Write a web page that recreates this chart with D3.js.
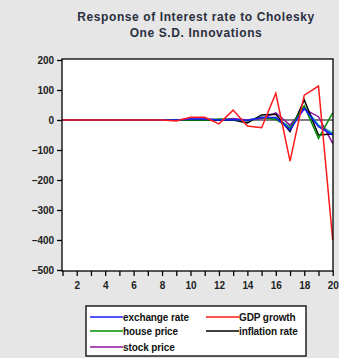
<!DOCTYPE html>
<html><head><meta charset="utf-8">
<script src="https://cdn.jsdelivr.net/npm/d3@7"></script>
<style>body{margin:0;background:#e6e6e6;}svg{display:block;}</style>
</head><body><svg id="c" width="339" height="358"></svg>
<script>
const periods = d3.range(1, 21);
const titleLines = ["Response of Interest rate to Cholesky", "One S.D. Innovations"];
const yTicks = [200, 100, 0, -100, -200, -300, -400, -500];
const xTickLabels = [2, 4, 6, 8, 10, 12, 14, 16, 18, 20];
const seriesNames = ["exchange rate", "GDP growth", "house price", "inflation rate", "stock price", "interest rate"];
const seriesColors = ["#1a1aff", "#ff1a1a", "#008c00", "#000000", "#9010a0", "#00a0a0"];
const inLegend = [true, true, true, true, true, false];
const exchangeRate = [0,0,0,0,0,0,0,0,0,3,3,0,2,-2,8,8,-33,39,-22,-50];
const gdpGrowth    = [0,0,0,0,0,0,0,0,-3,9,9,-13,33,-20,-26,89,-137,83,113,-400];
const housePrice   = [0,0,0,0,0,0,0,0,0,0,0,3,2,-3,9,2,-28,47,-61,24];
const inflation    = [0,0,0,0,0,0,0,0,0,0,0,0,0,-10,17,19,-39,67,-50,-47];
const stockPrice   = [0,0,0,0,0,0,0,0,0,3,3,0,5,0,5,24,-17,36,11,-78];
const interestRate = [0,0,0,0,0,0,0,0,0,0,0,0,0,0,8,5,-22,44,-17,-44];
const seriesValues = [exchangeRate, gdpGrowth, housePrice, inflation, stockPrice, interestRate];

const svg = d3.select("#c");
const L = 62, R = 333, T = 59, B = 271;
const x = d3.scaleLinear().domain([1, 20]).range([62.5, 332.7]);
const y = d3.scaleLinear().domain([200, -500]).range([60, 270]);

svg.append("g").selectAll("text").data(titleLines).join("text")
  .attr("x", 196).attr("y", (d, i) => 21 + i * 16)
  .attr("text-anchor", "middle")
  .style("font-family", "Liberation Sans, Arial, sans-serif")
  .style("font-size", "12px").style("font-weight", "bold").style("letter-spacing", "0.6px")
  .attr("fill", "#2a2f40").text(d => d);

svg.append("rect").attr("x", L).attr("y", T).attr("width", R - L).attr("height", B - T)
  .attr("fill", "#fff");

svg.append("line").attr("x1", L).attr("x2", R).attr("y1", y(0)).attr("y2", y(0))
  .attr("stroke", "#000").attr("stroke-width", 1.2);

const line = d3.line().x((d, i) => x(periods[i])).y(d => y(d));
const order = [5, 4, 3, 2, 0, 1];
svg.append("g").selectAll("path").data(order).join("path")
  .attr("d", k => line(seriesValues[k]))
  .attr("fill", "none").attr("stroke", k => seriesColors[k]).attr("stroke-width", 1.5);

svg.append("rect").attr("x", L).attr("y", T).attr("width", R - L).attr("height", B - T)
  .attr("fill", "none").attr("stroke", "#000").attr("stroke-width", 1.3);

const fontStyle = s => s.style("font-family", "Liberation Sans, Arial, sans-serif")
  .style("font-size", "10px").style("font-weight", "bold").style("letter-spacing", "-0.1px");

const yAx = svg.append("g").attr("transform", `translate(${L},0)`)
  .call(d3.axisLeft(y).tickValues(yTicks).tickSize(5).tickSizeOuter(0).tickPadding(3));
yAx.select(".domain").remove();
yAx.selectAll("line").attr("stroke", "#000").attr("stroke-width", 1.3);
yAx.selectAll("text").call(fontStyle).attr("fill", "#222");

const xAx = svg.append("g").attr("transform", `translate(0,${B})`)
  .call(d3.axisBottom(x).tickValues(periods).tickSize(5).tickSizeOuter(0).tickPadding(6)
    .tickFormat(d => xTickLabels.includes(d) ? d : ""));
xAx.select(".domain").remove();
xAx.selectAll("line").attr("stroke", "#000").attr("stroke-width", 1.3);
xAx.selectAll("text").call(fontStyle).attr("fill", "#222");

const lg = svg.append("g");
lg.append("rect").attr("x", 86).attr("y", 306).attr("width", 220).attr("height", 50)
  .attr("fill", "#fff").attr("stroke", "#000").attr("stroke-width", 1.3);
const items = seriesNames.map((n, i) => ({n, c: seriesColors[i], show: inLegend[i]})).filter(d => d.show);
const pos = [[90, 317], [206, 317], [90, 331], [206, 331], [90, 347]];
items.forEach((d, i) => {
  const [px, py] = pos[i];
  lg.append("line").attr("x1", px).attr("x2", px + 33).attr("y1", py).attr("y2", py)
    .attr("stroke", d.c).attr("stroke-width", 1.5);
  lg.append("text").attr("x", px + 33).attr("y", py + 3.5).call(fontStyle)
    .attr("fill", "#111").text(d.n);
});
</script></body></html>
